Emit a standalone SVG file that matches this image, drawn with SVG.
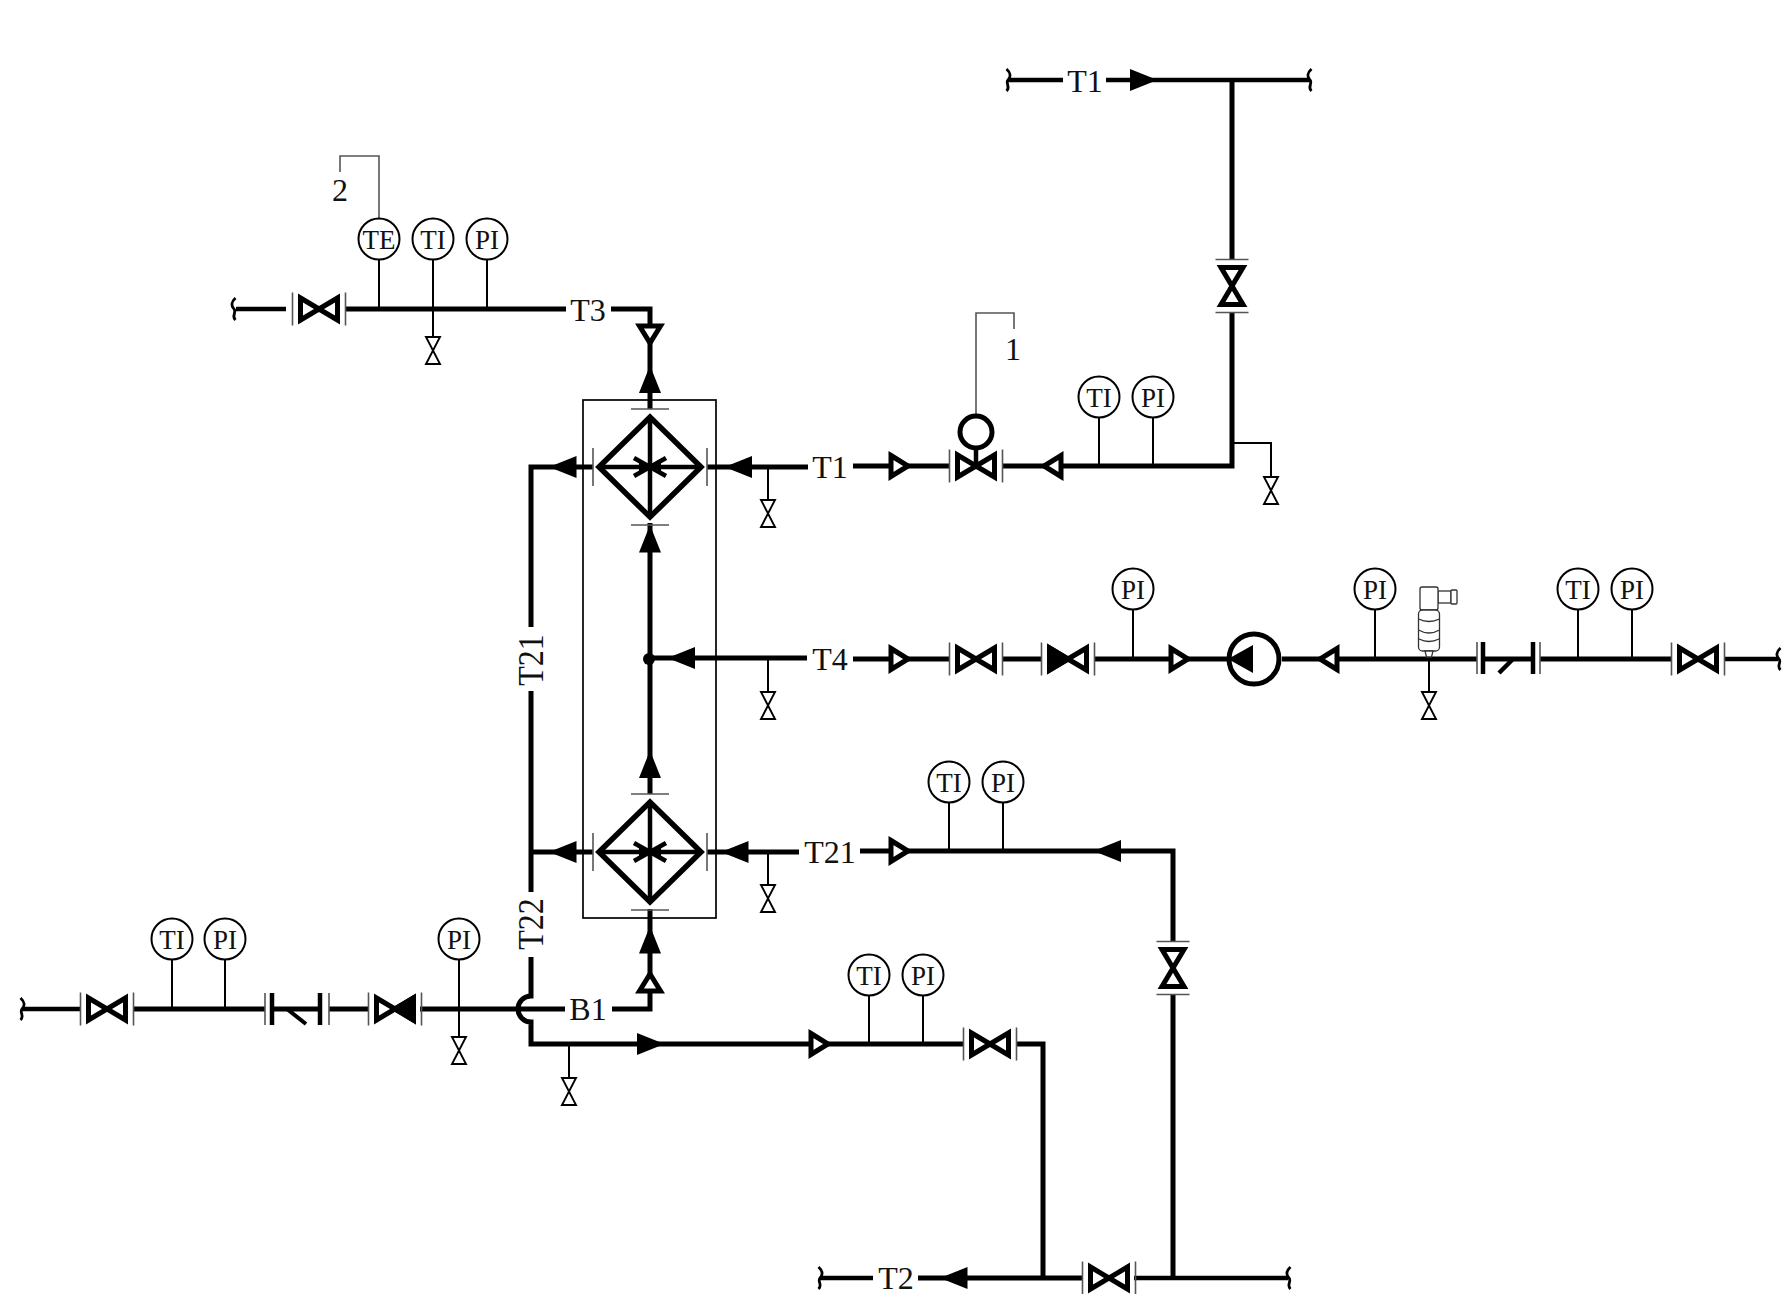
<svg xmlns="http://www.w3.org/2000/svg" xmlns:xlink="http://www.w3.org/1999/xlink" width="1783" height="1294" viewBox="0 0 1783 1294">
<style>
text{font-family:"Liberation Serif","Times New Roman",serif;fill:#111}
.lb{font-size:32px;text-anchor:middle}
.in{font-size:27px;text-anchor:middle}
.p{fill:none;stroke:#000;stroke-width:5;stroke-linejoin:miter}
.p4{fill:none;stroke:#000;stroke-width:4.5}
.th{fill:none;stroke:#000;stroke-width:2}
.lead{fill:none;stroke:#555;stroke-width:1.6}
.tick{stroke:#555;stroke-width:1.6;fill:none}
.st{stroke:#000;stroke-width:2;fill:none}
.cir{fill:#fff;stroke:#000;stroke-width:2}
.v{fill:#fff;stroke:#000;stroke-width:5;stroke-linejoin:miter}
.sv{fill:#fff;stroke:#000;stroke-width:1.9}
.s{fill:none;stroke:#000;stroke-width:2.8}
.sen{fill:#fff;stroke:#333;stroke-width:1.3}
</style>
<defs>
<path id="arr" d="M-15,0L12.5,-11L12.5,11Z" fill="#000"/>
<path id="red" class="v" d="M-9,-10.5L8,0L-9,10.5Z"/>
<g id="flanges"><path class="tick" d="M-26.5,-16.5V16.5M26.5,-16.5V16.5"/></g>
<g id="valve"><use xlink:href="#flanges" href="#flanges"/><path class="v" d="M-18.5,-11L18.5,11V-11L-18.5,11Z"/></g>
<g id="valveF"><use xlink:href="#flanges" href="#flanges"/><path class="v" d="M-18.5,-11L18.5,11V-11L-18.5,11Z"/><path d="M0,0L18.5,-11V11Z" fill="#000" stroke="#000" stroke-width="5"/></g>
<path id="sv" class="sv" d="M-7,-13.5H7L-7,13.5H7Z"/>
<path id="sq" class="s" d="M1.5,-11C-3,-7-3,-3 0,0C3,3-3,7 1.5,11"/>
<g id="hx">
<path class="v" style="stroke-width:5.5;fill:none" d="M-51,0L0,-50L51,0L0,50Z"/>
<path class="p4" d="M-51,0H51M0,-50V50"/>
<path class="p4" d="M-16,-9L16,9M-16,9L16,-9"/>
<path class="p4" d="M-8,-5V5M8,-5V5" style="stroke-width:6"/>
<path class="tick" d="M-57,-19V19M57,-19V19M-19,-58H19M-19,58H19"/>
</g>
</defs>
<rect width="1783" height="1294" fill="#fff"/>

<g id="connectors">
<path class="p4" d="M236,309H286"/>
<path class="p" d="M346,309H566"/>
<path class="p" d="M611,309H650V409"/>
<path class="p" d="M650,523V794"/>
<path class="p" d="M612,1009H650V909"/>
<path class="p" d="M593,467H531V627"/>
<path class="p" d="M531,691V892"/>
<path class="p" d="M593,852H529"/>
<path class="p" d="M531,957V996A13,13 0 0 0 531,1022V1044H963"/>
<path class="p" d="M707,467H808"/>
<path class="p" d="M853,466H949M1003,466H1232V312"/>
<path class="p" d="M1232,259V80"/>
<path class="th" d="M1232,443H1271V477"/>
<path class="p4" d="M1008,80H1063"/>
<path class="p4" d="M1106,80H1310"/>
<path class="p" d="M650,658H807"/>
<path class="p" d="M853,659H949M1002.5,659H1041M1094,659H1228M1282,659H1477M1483,659H1533M1540,659H1672"/>
<path class="p4" d="M1725,659H1778"/>
<path class="p" d="M707,852H799"/>
<path class="p" d="M860,851H1173V941"/>
<path class="p" d="M1173,994V1278"/>
<path class="p4" d="M22,1009H80"/>
<path class="p" d="M134,1009H265M272,1009H320M329,1009H368M420,1009H565"/>
<path class="p" d="M1016,1044H1043V1278"/>
<path class="p4" d="M820,1278H873"/>
<path class="p" d="M918,1278H1082"/>
<path class="p4" d="M1134,1278H1288"/>
<path class="th" d="M768,467V500M768,658V692M768,852V885M569,1044V1078"/>
<path class="lead" d="M340,172V156H379V218"/>
<path class="lead" d="M976,415V313H1014V329"/>
</g>

<g id="arrows">
<use href="#arr" transform="translate(650,380.5) rotate(90)"/>
<use href="#arr" transform="translate(650,540) rotate(90)"/>
<use href="#arr" transform="translate(650,765.5) rotate(90)"/>
<use href="#arr" transform="translate(650,941) rotate(90)"/>
<use href="#arr" transform="translate(564,467)"/>
<use href="#arr" transform="translate(739.5,467)"/>
<use href="#arr" transform="translate(564,852)"/>
<use href="#arr" transform="translate(736,852)"/>
<use href="#arr" transform="translate(682.5,658)"/>
<use href="#arr" transform="translate(1108.5,851)"/>
<use href="#arr" transform="translate(1142.5,80) rotate(180)"/>
<use href="#arr" transform="translate(649.5,1044) rotate(180)"/>
<use href="#arr" transform="translate(955,1278)"/>
</g>

<g id="reducers">
<use href="#red" transform="translate(900,466)"/>
<use href="#red" transform="translate(900,659)"/>
<use href="#red" transform="translate(1180,659)"/>
<use href="#red" transform="translate(900,851)"/>
<use href="#red" transform="translate(820,1044)"/>
<use href="#red" transform="translate(1052,466) rotate(180)"/>
<use href="#red" transform="translate(1328,659) rotate(180)"/>
<use href="#red" transform="translate(650,335) rotate(90)"/>
<use href="#red" transform="translate(650,982) rotate(-90)"/>
</g>

<g id="ends">
<use href="#sq" transform="translate(234,309)"/>
<use href="#sq" transform="translate(1008,80) scale(-1,1)"/>
<use href="#sq" transform="translate(1310,80)"/>
<use href="#sq" transform="translate(1779,659)"/>
<use href="#sq" transform="translate(22,1009) scale(-1,1)"/>
<use href="#sq" transform="translate(820,1278) scale(-1,1)"/>
<use href="#sq" transform="translate(1289,1278)"/>
</g>

<g id="frame"><rect x="583" y="400" width="133" height="518" fill="none" stroke="#000" stroke-width="1.7"/></g>
<g id="hx-1"><use href="#hx" transform="translate(650,467)"/></g>
<g id="hx-2"><use href="#hx" transform="translate(650,852)"/></g>

<g id="valves">
<g id="v-t3"><use href="#valve" transform="translate(319,309)"/></g>
<g id="v-t1-vert"><use href="#valve" transform="translate(1232,286) rotate(90)"/></g>
<g id="v-t1-ctl">
<use href="#valve" transform="translate(976,466)"/>
<path class="p4" d="M976,448V466"/>
<circle cx="976" cy="432" r="16" fill="#fff" stroke="#000" stroke-width="5"/>
</g>
<g id="v-t4-1"><use href="#valve" transform="translate(976,659)"/></g>
<g id="v-t4-2"><use href="#valveF" transform="translate(1068,659) rotate(180)"/></g>
<g id="v-t4-3"><use href="#valve" transform="translate(1698,659)"/></g>
<g id="v-t21"><use href="#valve" transform="translate(1173,968) rotate(90)"/></g>
<g id="v-b1-1"><use href="#valve" transform="translate(107,1009)"/></g>
<g id="v-b1-2"><use href="#valveF" transform="translate(395,1009)"/></g>
<g id="v-ret"><use href="#valve" transform="translate(990,1044)"/></g>
<g id="v-bot"><use href="#valve" transform="translate(1109,1278)"/></g>
<g id="d1"><use href="#sv" transform="translate(433,350.5)"/></g>
<g id="d2"><use href="#sv" transform="translate(1271,490.5)"/></g>
<g id="d3"><use href="#sv" transform="translate(768,513.5)"/></g>
<g id="d4"><use href="#sv" transform="translate(768,705.5)"/></g>
<g id="d5"><use href="#sv" transform="translate(768,898.5)"/></g>
<g id="d6"><use href="#sv" transform="translate(1429,705.5)"/></g>
<g id="d7"><use href="#sv" transform="translate(459,1050.5)"/></g>
<g id="d8"><use href="#sv" transform="translate(569,1091.5)"/></g>
</g>

<g id="junction"><circle cx="649" cy="659" r="6" fill="#000"/></g>

<g id="pump">
<circle cx="1254" cy="659" r="25" fill="#fff" stroke="#000" stroke-width="5"/>
<path d="M1228,659L1253,645V673Z" fill="#000"/>
</g>

<g id="check-1">
<path class="tick" d="M1477,642V674M1540,642V674"/>
<path d="M1483,642V674M1533,642V674" stroke="#000" stroke-width="4.5"/>
<path d="M1499,673L1513,659" stroke="#000" stroke-width="4.5"/>
</g>
<g id="check-2">
<path class="tick" d="M265,993V1025M329,993V1025"/>
<path d="M272,993V1025M320,993V1025" stroke="#000" stroke-width="4.5"/>
<path d="M287,1009L306,1024" stroke="#000" stroke-width="4"/>
</g>

<g id="sensor">
<path class="st" d="M1429,656V692"/>
<rect class="sen" x="1438" y="591" width="13" height="12"/>
<rect class="sen" x="1451" y="590" width="6" height="14" rx="1"/>
<rect class="sen" x="1420" y="587" width="18" height="23" rx="2"/>
<rect class="sen" x="1418.5" y="610" width="21" height="41" rx="4"/>
<path class="sen" d="M1418.5,619Q1429,624 1439.5,619M1418.5,630Q1429,636 1439.5,630M1419,639Q1429,644 1439,639" fill="none"/>
<path class="sen" d="M1425,651H1433L1431.5,657H1426.5Z"/>
</g>

<g id="instruments">
<g id="te-1"><path class="st" d="M379,259V309"/><circle class="cir" cx="379" cy="239" r="20.5"/><text class="in" x="379" y="249">TE</text></g>
<g id="ti-1"><path class="st" d="M433,259V337"/><circle class="cir" cx="433" cy="239" r="20.5"/><text class="in" x="433" y="249">TI</text></g>
<g id="pi-1"><path class="st" d="M487,259V309"/><circle class="cir" cx="487" cy="239" r="20.5"/><text class="in" x="487" y="249">PI</text></g>
<g id="ti-2"><path class="st" d="M1099,418V466"/><circle class="cir" cx="1099" cy="397" r="20.5"/><text class="in" x="1099" y="407">TI</text></g>
<g id="pi-2"><path class="st" d="M1153,418V466"/><circle class="cir" cx="1153" cy="397" r="20.5"/><text class="in" x="1153" y="407">PI</text></g>
<g id="pi-3"><path class="st" d="M1133,610V659"/><circle class="cir" cx="1133" cy="589" r="20.5"/><text class="in" x="1133" y="599">PI</text></g>
<g id="pi-4"><path class="st" d="M1375,610V659"/><circle class="cir" cx="1375" cy="589" r="20.5"/><text class="in" x="1375" y="599">PI</text></g>
<g id="ti-5"><path class="st" d="M1578,610V659"/><circle class="cir" cx="1578" cy="589" r="20.5"/><text class="in" x="1578" y="599">TI</text></g>
<g id="pi-5"><path class="st" d="M1632,610V659"/><circle class="cir" cx="1632" cy="589" r="20.5"/><text class="in" x="1632" y="599">PI</text></g>
<g id="ti-6"><path class="st" d="M949,803V851"/><circle class="cir" cx="949" cy="782" r="20.5"/><text class="in" x="949" y="792">TI</text></g>
<g id="pi-6"><path class="st" d="M1003,803V851"/><circle class="cir" cx="1003" cy="782" r="20.5"/><text class="in" x="1003" y="792">PI</text></g>
<g id="ti-7"><path class="st" d="M172,960V1009"/><circle class="cir" cx="172" cy="939" r="20.5"/><text class="in" x="172" y="949">TI</text></g>
<g id="pi-7"><path class="st" d="M225,960V1009"/><circle class="cir" cx="225" cy="939" r="20.5"/><text class="in" x="225" y="949">PI</text></g>
<g id="pi-8"><path class="st" d="M459,960V1037"/><circle class="cir" cx="459" cy="939" r="20.5"/><text class="in" x="459" y="949">PI</text></g>
<g id="ti-9"><path class="st" d="M869,996V1044"/><circle class="cir" cx="869" cy="975" r="20.5"/><text class="in" x="869" y="985">TI</text></g>
<g id="pi-9"><path class="st" d="M923,996V1044"/><circle class="cir" cx="923" cy="975" r="20.5"/><text class="in" x="923" y="985">PI</text></g>
</g>

<g id="labels">
<text class="lb" x="340" y="201">2</text>
<text class="lb" x="1013" y="360">1</text>
<text class="lb" x="588" y="321">T3</text>
<text class="lb" x="1085" y="92">T1</text>
<text class="lb" x="830" y="478">T1</text>
<text class="lb" x="830" y="670">T4</text>
<text class="lb" x="830" y="863">T21</text>
<text class="lb" x="588" y="1020">B1</text>
<text class="lb" x="896" y="1289">T2</text>
<text class="lb" transform="translate(543,660) rotate(-90) scale(1,1.12)">T21</text>
<text class="lb" transform="translate(543,924) rotate(-90) scale(1,1.12)">T22</text>
</g>
</svg>
